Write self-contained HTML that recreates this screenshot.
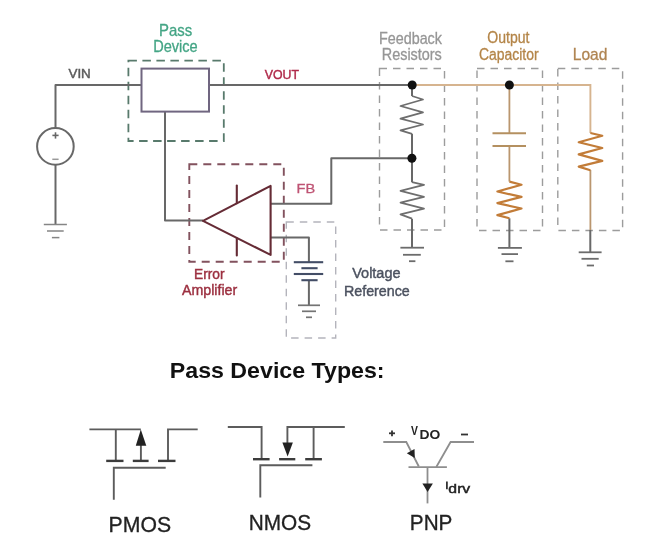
<!DOCTYPE html>
<html><head><meta charset="utf-8">
<style>
html,body{margin:0;padding:0;background:#fff;width:661px;height:558px;overflow:hidden}
svg{display:block;filter:blur(0.5px)}
text{font-family:"Liberation Sans",sans-serif}
</style></head><body>
<svg width="661" height="558" viewBox="0 0 661 558">
<rect width="661" height="558" fill="#fff"/>

<!-- ===== dashed group boxes ===== -->
<g fill="none" stroke-width="1.8" stroke-dasharray="8.5 5.5">
  <rect x="128.4" y="60.6" width="95.4" height="80.4" stroke="#587a6c"/>
  <rect x="189.3" y="164.3" width="94.5" height="97.4" stroke="#82525e" stroke-dasharray="8 6" stroke-width="1.9"/>
</g>
<g fill="none" stroke-width="1.4" stroke-dasharray="7.5 6" stroke="#9c9c9c">
  <rect x="379.5" y="68.5" width="65" height="161.5"/>
  <rect x="477" y="68.5" width="65.5" height="162"/>
  <rect x="557.8" y="68.5" width="64.8" height="162"/>
  <rect x="286.3" y="222" width="49.4" height="116" stroke="#b4b4bc"/>
</g>

<!-- ===== wires ===== -->
<g fill="none" stroke="#686868" stroke-width="2" stroke-linejoin="round">
  <polyline points="55.5,128 55.5,85 141.5,85"/>
  <line x1="55.5" y1="165" x2="55.5" y2="224.5"/>
  <line x1="209" y1="85" x2="412" y2="85"/>
  <polyline points="165,111.5 165,220.6 203,220.6"/>
  <polyline points="271,203.8 331.3,203.8 331.3,158.2 412,158.2"/>
  <polyline points="271,237.5 308.9,237.5 308.9,262"/>
  <line x1="308.9" y1="280" x2="308.9" y2="305.3"/>
  <line x1="412" y1="85" x2="412" y2="96"/>
  <line x1="412" y1="133.8" x2="412" y2="182.2"/>
  <line x1="412" y1="218.7" x2="412" y2="247.7"/>
  <line x1="509.4" y1="218.3" x2="509.4" y2="247.9"/>
  <line x1="590.3" y1="230" x2="590.3" y2="252.3"/>
</g>
<g fill="none" stroke="#6e6e6e" stroke-width="1.8" stroke-linejoin="round">
  <polyline points="412,96 423,99.5 400.5,106 423,112.3 400.5,118.7 423,124.5 400.5,130.3 412,133.8"/>
  <polyline points="412,182.2 424,184.8 400.5,190.8 424,196.8 400.5,202.6 424,208.6 400.5,214.4 412,218.7"/>
</g>
<!-- grounds -->
<g fill="none" stroke="#6c6c6c" stroke-width="1.8">
  <line x1="400.4" y1="247.7" x2="424" y2="247.7"/>
  <line x1="403" y1="254.8" x2="420.8" y2="254.8"/>
  <line x1="409" y1="261.2" x2="415.4" y2="261.2"/>
  <line x1="497.9" y1="247.9" x2="521.9" y2="247.9"/>
  <line x1="501.5" y1="254.1" x2="518" y2="254.1"/>
  <line x1="505.4" y1="261.3" x2="513.5" y2="261.3"/>
  <line x1="578.7" y1="252.3" x2="601.6" y2="252.3"/>
  <line x1="581.5" y1="258.8" x2="598.7" y2="258.8"/>
  <line x1="586.8" y1="265.5" x2="594" y2="265.5"/>
</g>
<g fill="none" stroke="#858585" stroke-width="1.5">
  <line x1="43.8" y1="224.5" x2="66.9" y2="224.5"/>
  <line x1="47" y1="231" x2="63.7" y2="231"/>
  <line x1="51.9" y1="237.6" x2="59.4" y2="237.6"/>
</g>
<!-- tan wires -->
<g fill="none" stroke="#d6b48f" stroke-width="1.9">
  <polyline points="412,85 590.4,85 590.4,133"/>
</g>
<g fill="none" stroke="#ba966f" stroke-width="1.8">
  <line x1="590.4" y1="170" x2="590.4" y2="230"/>
  <line x1="509.4" y1="85" x2="509.4" y2="133.3"/>
  <line x1="509.4" y1="146" x2="509.4" y2="181.6"/>
</g>
<g fill="none" stroke="#b49060" stroke-width="2.1">
  <line x1="492.5" y1="133.3" x2="526" y2="133.3"/>
  <line x1="492.5" y1="146" x2="526" y2="146"/>
</g>
<g fill="none" stroke="#c27c38" stroke-width="2.2" stroke-linejoin="round">
  <polyline points="509.4,181.6 521.5,184.7 497.4,191.5 521.5,196.9 497.4,203.1 521.5,208.5 497.4,215.1 509.4,218.3"/>
  <polyline points="590.4,133 602.3,135.8 578.7,142.2 602.3,148 578.7,154.4 602.3,160.9 578.7,166.6 590.4,170.2"/>
</g>

<!-- dots -->
<circle cx="412.2" cy="85" r="4.5" fill="#111"/>
<circle cx="411.9" cy="158.2" r="4.5" fill="#111"/>
<circle cx="509.4" cy="85" r="4.5" fill="#111"/>

<!-- source -->
<circle cx="55.4" cy="146.4" r="18.3" fill="none" stroke="#686868" stroke-width="2"/>
<g stroke="#666" stroke-width="1.6">
  <line x1="52.4" y1="135.4" x2="58.6" y2="135.4"/>
  <line x1="55.5" y1="132.3" x2="55.5" y2="138.6"/>
</g>
<line x1="52.3" y1="159.3" x2="58.6" y2="159.3" stroke="#999" stroke-width="1.5"/>

<!-- pass device box -->
<rect x="141.5" y="68.6" width="67.5" height="43" fill="none" stroke="#706680" stroke-width="2"/>

<!-- error amp -->
<g fill="none" stroke="#652b35" stroke-width="2.1" stroke-linejoin="round" stroke-linecap="round">
  <polygon points="203,220.9 270.6,185.9 270.6,254.9"/>
  <line x1="236.8" y1="185.5" x2="236.8" y2="203.2"/>
  <line x1="236.8" y1="238.4" x2="236.8" y2="255.5"/>
</g>

<!-- battery -->
<g stroke="#434d66" stroke-width="2.1">
  <line x1="293.8" y1="262.2" x2="323.2" y2="262.2"/>
  <line x1="301.4" y1="268.2" x2="317.6" y2="268.2"/>
  <line x1="293.8" y1="274" x2="323.2" y2="274"/>
  <line x1="301.4" y1="280.2" x2="317.6" y2="280.2"/>
</g>
<g stroke="#747474" stroke-width="1.7">
  <line x1="298" y1="305.3" x2="320" y2="305.3"/>
  <line x1="302" y1="311.3" x2="316" y2="311.3"/>
  <line x1="306" y1="317.3" x2="312" y2="317.3"/>
</g>

<!-- labels -->
<!--TEXTS-->
<text transform="translate(68.43 78.20) scale(1.0174 1)" font-size="13.19" fill="#5a5a5a" stroke="#5a5a5a" stroke-width="0.45">VIN</text>
<text transform="translate(264.74 78.80) scale(0.9083 1)" font-size="13.57" fill="#b02a4a" stroke="#b02a4a" stroke-width="0.45">VOUT</text>
<text transform="translate(296.53 193.00) scale(1.1059 1)" font-size="13.19" fill="#bf5474" stroke="#bf5474" stroke-width="0.3">FB</text>
<text transform="translate(159.01 35.60) scale(0.9331 1)" font-size="16.00" fill="#44a585" stroke="#44a585" stroke-width="0.3">Pass</text>
<text transform="translate(153.13 52.40) scale(0.9130 1)" font-size="16.00" fill="#44a585" stroke="#44a585" stroke-width="0.3">Device</text>
<text transform="translate(378.95 43.70) scale(0.9148 1)" font-size="15.70" fill="#969696" stroke="#969696" stroke-width="0.3">Feedback</text>
<text transform="translate(381.75 60.20) scale(0.9189 1)" font-size="15.70" fill="#969696" stroke="#969696" stroke-width="0.3">Resistors</text>
<text transform="translate(487.27 43.20) scale(0.8882 1)" font-size="15.80" fill="#b48548" stroke="#b48548" stroke-width="0.3">Output</text>
<text transform="translate(479.00 59.60) scale(0.8825 1)" font-size="15.80" fill="#b48548" stroke="#b48548" stroke-width="0.3">Capacitor</text>
<text transform="translate(572.75 60.10) scale(0.9859 1)" font-size="15.80" fill="#b08552" stroke="#b08552" stroke-width="0.3">Load</text>
<text transform="translate(194.00 279.00) scale(0.8981 1)" font-size="15.30" fill="#9c3040" stroke="#9c3040" stroke-width="0.45">Error</text>
<text transform="translate(181.90 294.80) scale(0.9306 1)" font-size="15.30" fill="#9c3040" stroke="#9c3040" stroke-width="0.45">Amplifier</text>
<text transform="translate(352.23 278.40) scale(0.9409 1)" font-size="15.40" fill="#4c5260" stroke="#4c5260" stroke-width="0.45">Voltage</text>
<text transform="translate(343.96 295.70) scale(0.9270 1)" font-size="15.40" fill="#4c5260" stroke="#4c5260" stroke-width="0.45">Reference</text>
<text transform="translate(169.79 378.30) scale(1.0449 1)" font-size="22.20" font-weight="bold" fill="#111">Pass Device Types:</text>
<text transform="translate(108.60 531.60) scale(0.9926 1)" font-size="21.40" fill="#222" stroke="#222" stroke-width="0.3">PMOS</text>
<text transform="translate(248.63 530.40) scale(0.9736 1)" font-size="21.40" fill="#222" stroke="#222" stroke-width="0.3">NMOS</text>
<text transform="translate(409.84 530.10) scale(0.9777 1)" font-size="21.20" fill="#222" stroke="#222" stroke-width="0.3">PNP</text>
<text transform="translate(410.95 434.70) scale(0.8528 1)" font-size="12.17" font-weight="bold" fill="#222">V</text>
<text transform="translate(419.60 439.20) scale(1.0681 1)" font-size="13.00" font-weight="bold" fill="#222">DO</text>
<text transform="translate(448.37 493.20) scale(1.2421 1)" font-size="12.69" fill="#222" stroke="#222" stroke-width="0.45">drv</text>
<!--/TEXTS-->
<!-- ===== Pass Device Types ===== -->
<g fill="none" stroke="#5c5c5c" stroke-width="1.9">
  <!-- PMOS -->
  <polyline points="89.4,429.4 140.8,429.4"/>
  <line x1="115.8" y1="429.4" x2="115.8" y2="460.9"/>
  <line x1="140.9" y1="445" x2="140.9" y2="460.9"/>
  <polyline points="168,460.9 168,429.4 197.7,429.4"/>
  <polyline points="113.8,499.7 113.8,467.8 165.7,467.8"/>
  <!-- NMOS -->
  <polyline points="227.8,427 261.6,427 261.6,459.2"/>
  <polyline points="287.4,443 287.4,427 344.8,427"/>
  <line x1="313.6" y1="427" x2="313.6" y2="459.2"/>
  <polyline points="260.3,497.4 260.3,465.3 312.4,465.3"/>
</g>
<g fill="none" stroke="#8e8e8e" stroke-width="1.8">
  <!-- PNP -->
  <polyline points="383.3,442 406.3,442 418.8,466.5"/>
  <polyline points="436.3,467 450.6,442 474,442"/>
  <line x1="427.5" y1="467" x2="427.5" y2="503.4"/>
  <line x1="408.5" y1="467.2" x2="446.9" y2="467.2"/>
</g>
<g fill="none" stroke="#3c3c3c" stroke-width="2.4">
  <line x1="106.2" y1="460.9" x2="123.5" y2="460.9"/>
  <line x1="132.8" y1="460.9" x2="148.6" y2="460.9"/>
  <line x1="158" y1="460.9" x2="175.5" y2="460.9"/>
  <line x1="253" y1="459.2" x2="269.6" y2="459.2"/>
  <line x1="279.1" y1="459.2" x2="295.3" y2="459.2"/>
  <line x1="305.2" y1="459.2" x2="321.9" y2="459.2"/>
</g>
<g fill="#222">
  <polygon points="140.8,429.5 135.8,445.8 146.3,445.8"/>
  <polygon points="282.4,442.5 292.9,442.5 287.6,456.6"/>
  <polygon points="406.8,453.3 414.5,449 414.8,457.9"/>
  <polygon points="422.4,483.5 432.9,483.5 427.6,492"/>
</g>
<line x1="446.9" y1="481.5" x2="446.9" y2="489.2" stroke="#333" stroke-width="1.8"/>
<g stroke="#333" stroke-width="1.8">
  <line x1="389" y1="433.3" x2="395" y2="433.3"/>
  <line x1="392" y1="430.5" x2="392" y2="436.2"/>
  <line x1="461" y1="434.5" x2="468" y2="434.5"/>
</g>
</svg>
</body></html>
